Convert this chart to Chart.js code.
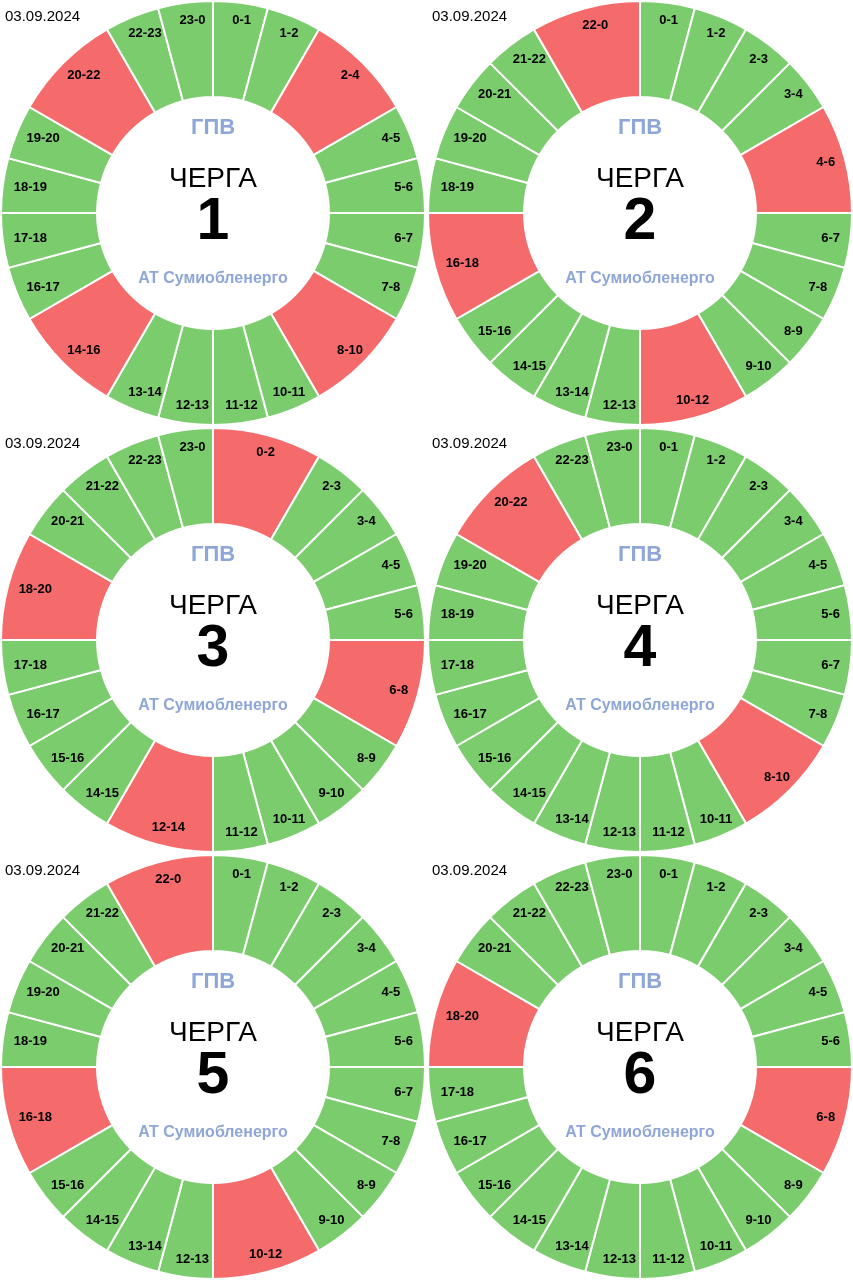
<!DOCTYPE html>
<html>
<head>
<meta charset="utf-8">
<script src="https://cdn.jsdelivr.net/npm/chart.js@4/dist/chart.umd.min.js"></script>
<style>
  html, body { margin: 0; padding: 0; background: #fff; }
  body { width: 853px; height: 1280px; position: relative; overflow: hidden; font-family: "Liberation Sans", Arial, sans-serif; }
  .cell { position: absolute; width: 426px; height: 426px; }
  .cell canvas { position: absolute; left: 0; top: 0; }
  .t { position: absolute; left: 0; width: 426px; text-align: center; line-height: 1; transform: translateY(-50%); white-space: nowrap; }
  .date { position: absolute; left: 5px; top: 15px; font-size: 15px; line-height: 1; transform: translateY(-50%); color: #000; }
  .gpv { top: 127px; font-size: 22px; font-weight: bold; color: #8FA6D8; }
  .cherga { top: 178px; font-size: 28px; color: #000; }
  .num { top: 219px; font-size: 59px; font-weight: bold; color: #000; }
  .org { top: 278px; font-size: 16px; font-weight: bold; color: #8FA6D8; }
</style>
</head>
<body>
<script>
// ---- data ----
const dateLabel = "03.09.2024";
const titleTop = "ГПВ";
const titleMain = "ЧЕРГА";
const orgName = "АТ Сумиобленерго";
const queueNumbers = [1, 2, 3, 4, 5, 6];
// start hours of 2-hour outages (red) per queue
const queue1Off = [2, 8, 14, 20];
const queue2Off = [4, 10, 16, 22];
const queue3Off = [0, 6, 12, 18];
const queue4Off = [8, 20];
const queue5Off = [10, 16, 22];
const queue6Off = [6, 18];
const allQueues = [queue1Off, queue2Off, queue3Off, queue4Off, queue5Off, queue6Off];

const GREEN = '#7BCC6D';
const RED = '#F56B6B';

function buildSegments(off) {
  const labels = [], values = [], colors = [];
  for (let h = 0; h < 24; h++) {
    if (off.includes(h)) {
      labels.push(h + '-' + ((h + 2) % 24));
      values.push(2);
      colors.push(RED);
      h++;
    } else {
      labels.push(h + '-' + ((h + 1) % 24));
      values.push(1);
      colors.push(GREEN);
    }
  }
  return { labels, values, colors };
}

const segLabelPlugin = {
  id: 'segLabels',
  afterDatasetsDraw(chart) {
    const ctx = chart.ctx;
    const meta = chart.getDatasetMeta(0);
    ctx.save();
    ctx.font = 'bold 13px "Liberation Sans", Arial, sans-serif';
    ctx.fillStyle = '#000';
    ctx.textAlign = 'center';
    ctx.textBaseline = 'middle';
    meta.data.forEach((arc, i) => {
      const p = arc.getProps(['x', 'y', 'startAngle', 'endAngle', 'innerRadius', 'outerRadius'], true);
      const a = (p.startAngle + p.endAngle) / 2;
      const r = p.outerRadius * 0.915;
      ctx.fillText(chart.data.labels[i], p.x + 4 + Math.cos(a) * r * 0.97, p.y + Math.sin(a) * r);
    });
    ctx.restore();
  }
};

const positions = [[0, 0], [427, 0], [0, 427], [427, 427], [0, 854], [427, 854]];

allQueues.forEach((off, idx) => {
  const seg = buildSegments(off);
  const cell = document.createElement('div');
  cell.className = 'cell';
  cell.style.left = positions[idx][0] + 'px';
  cell.style.top = positions[idx][1] + 'px';
  const cv = document.createElement('canvas');
  cv.width = 426; cv.height = 426;
  cell.appendChild(cv);
  const mk = (cls, txt) => { const d = document.createElement('div'); d.className = cls; d.textContent = txt; cell.appendChild(d); };
  mk('date', dateLabel);
  mk('t gpv', titleTop);
  mk('t cherga', titleMain);
  mk('t num', String(queueNumbers[idx]));
  mk('t org', orgName);
  document.body.appendChild(cell);

  new Chart(cv, {
    type: 'doughnut',
    data: {
      labels: seg.labels,
      datasets: [{
        data: seg.values,
        backgroundColor: seg.colors,
        borderColor: '#FFFFFF',
        borderWidth: 2
      }]
    },
    options: {
      responsive: false,
      animation: false,
      cutout: '54.7%',
      layout: { padding: 0 },
      plugins: { legend: { display: false }, tooltip: { enabled: false } }
    },
    plugins: [segLabelPlugin]
  });
});
</script>
</body>
</html>
